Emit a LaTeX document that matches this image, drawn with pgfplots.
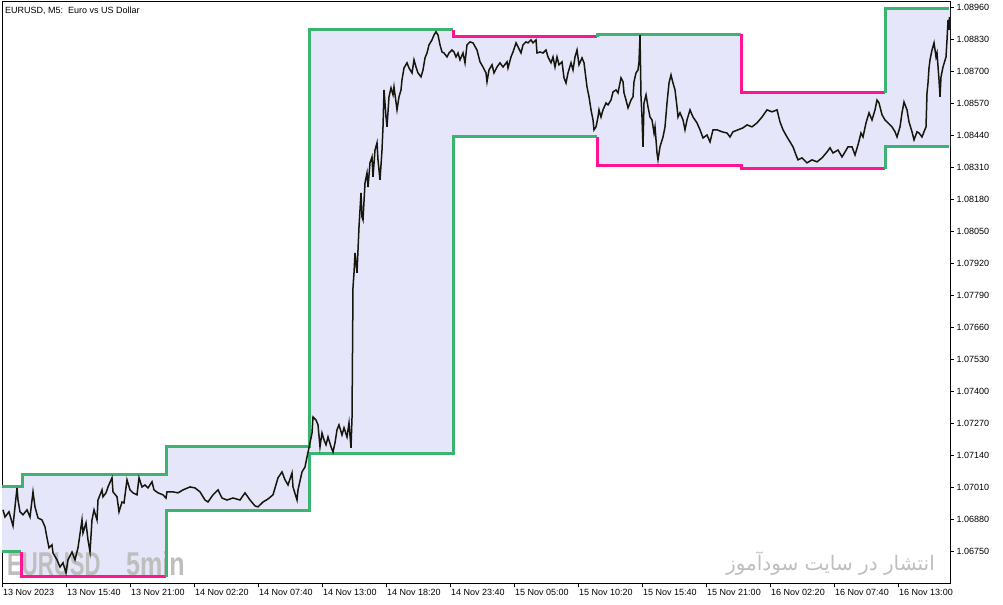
\documentclass[border=0pt]{standalone}
\usepackage{pgfplots}
\pgfplotsset{compat=1.18}
\usepackage{pgfplotstable}
\usepackage{fontspec}
\setmainfont{Liberation Sans}
\newfontfamily\arabicfont[Script=Arabic]{DejaVu Sans}
\TeXXeTstate=1
\definecolor{chgreen}{RGB}{60,179,113}
\definecolor{chpink}{RGB}{255,20,147}
\definecolor{chfill}{RGB}{230,230,250}
\definecolor{wmgray}{RGB}{190,190,190}
\definecolor{pricecol}{RGB}{22,22,12}

\pgfplotstableread{
x p
3 1.06918
5 1.06889
9 1.06910
13 1.06853
15 1.06930
17 1.07007
18 1.06958
20 1.06910
23 1.06898
27 1.06918
30 1.06889
33 1.06991
35 1.06930
38 1.06885
42 1.06877
45 1.06849
47 1.06804
49 1.06764
52 1.06776
53 1.06743
57 1.06715
60 1.06686
63 1.06703
66 1.06662
68 1.06715
72 1.06747
75 1.06715
78 1.06764
82 1.06877
83 1.06824
86 1.06865
88 1.06796
90 1.06747
92 1.06877
94 1.06918
97 1.06877
98 1.06958
102 1.06999
103 1.06971
106 1.06987
108 1.07011
112 1.07048
113 1.06991
117 1.06971
119 1.06910
122 1.06950
124 1.06946
127 1.07040
130 1.06999
133 1.06987
137 1.06979
139 1.07048
142 1.07011
145 1.07019
148 1.07007
152 1.07032
154 1.06999
158 1.06987
163 1.06979
166 1.06966
167 1.06991
173 1.06991
178 1.06987
183 1.06999
190 1.07011
195 1.07007
200 1.06991
205 1.06958
208 1.06950
213 1.06979
218 1.06999
222 1.06966
227 1.06958
233 1.06966
240 1.06958
245 1.06987
250 1.06958
255 1.06934
258 1.06930
263 1.06950
268 1.06962
273 1.06979
278 1.07048
282 1.07072
285 1.07040
288 1.07019
292 1.07068
293 1.07011
297 1.06958
298 1.06999
302 1.07072
305 1.07092
307 1.07133
309 1.07170
312 1.07230
313 1.07295
316 1.07283
318 1.07263
320 1.07174
322 1.07230
324 1.07202
326 1.07182
328 1.07214
331 1.07174
333 1.07153
335 1.07190
337 1.07243
339 1.07263
342 1.07222
344 1.07251
347 1.07214
349 1.07271
351 1.07170
352 1.07291
353 1.07823
354 1.07880
355 1.07961
357 1.07880
358 1.07973
359 1.08067
361 1.08205
362 1.08107
363 1.08095
365 1.08245
367 1.08286
368 1.08229
370 1.08327
372 1.08351
373 1.08270
375 1.08379
377 1.08408
378 1.08339
380 1.08258
382 1.08379
383 1.08473
384 1.08623
386 1.08513
387 1.08473
389 1.08595
391 1.08631
393 1.08603
394 1.08635
397 1.08542
399 1.08595
401 1.08623
402 1.08664
404 1.08712
407 1.08733
409 1.08712
412 1.08692
414 1.08745
416 1.08716
418 1.08692
421 1.08676
423 1.08704
425 1.08753
427 1.08773
429 1.08806
432 1.08826
434 1.08846
436 1.08859
438 1.08846
440 1.08806
442 1.08777
444 1.08773
447 1.08757
449 1.08773
452 1.08785
454 1.08777
456 1.08757
458 1.08773
460 1.08745
463 1.08773
465 1.08733
467 1.08806
470 1.08818
473 1.08814
477 1.08785
480 1.08737
483 1.08716
486 1.08692
487 1.08656
489 1.08704
492 1.08725
494 1.08692
497 1.08716
500 1.08733
503 1.08716
507 1.08737
508 1.08712
511 1.08757
513 1.08777
516 1.08814
518 1.08798
521 1.08773
523 1.08806
526 1.08818
528 1.08814
531 1.08826
533 1.08814
536 1.08826
537 1.08773
540 1.08777
543 1.08773
546 1.08785
548 1.08757
551 1.08733
553 1.08757
555 1.08716
557 1.08757
559 1.08725
562 1.08737
564 1.08672
566 1.08651
568 1.08692
571 1.08733
573 1.08704
575 1.08757
577 1.08785
579 1.08725
582 1.08753
584 1.08733
587 1.08635
589 1.08595
591 1.08542
593 1.08501
594 1.08461
596 1.08473
598 1.08513
599 1.08542
601 1.08513
603 1.08542
606 1.08570
608 1.08562
611 1.08582
613 1.08615
616 1.08623
618 1.08611
621 1.08672
623 1.08656
624 1.08611
626 1.08582
628 1.08550
631 1.08582
633 1.08595
634 1.08656
636 1.08692
638 1.08704
639 1.08737
640 1.08846
641 1.08595
642 1.08513
643 1.08392
644 1.08570
646 1.08603
648 1.08554
650 1.08513
652 1.08501
654 1.08448
655 1.08473
657 1.08367
658 1.08339
660 1.08392
663 1.08432
665 1.08473
667 1.08570
669 1.08651
671 1.08684
673 1.08651
675 1.08623
677 1.08554
678 1.08513
680 1.08530
683 1.08501
685 1.08461
687 1.08501
690 1.08542
693 1.08513
697 1.08489
700 1.08461
703 1.08428
707 1.08440
710 1.08412
713 1.08461
717 1.08461
722 1.08453
727 1.08448
730 1.08432
733 1.08453
738 1.08461
743 1.08469
747 1.08481
752 1.08473
757 1.08489
762 1.08513
767 1.08542
772 1.08534
777 1.08542
780 1.08493
783 1.08461
787 1.08432
790 1.08412
793 1.08392
796 1.08359
798 1.08339
802 1.08347
807 1.08327
812 1.08339
817 1.08331
822 1.08347
827 1.08371
830 1.08388
833 1.08367
838 1.08379
842 1.08351
845 1.08371
848 1.08392
852 1.08392
855 1.08359
858 1.08400
861 1.08448
863 1.08432
866 1.08489
869 1.08530
872 1.08501
875 1.08542
877 1.08582
879 1.08570
882 1.08522
885 1.08501
888 1.08489
892 1.08473
895 1.08453
897 1.08432
900 1.08473
902 1.08530
904 1.08574
907 1.08542
909 1.08493
912 1.08453
914 1.08420
917 1.08453
919 1.08448
922 1.08432
924 1.08453
926 1.08473
927 1.08611
928 1.08651
929 1.08712
930 1.08745
932 1.08785
934 1.08814
936 1.08757
937 1.08773
939 1.08664
940 1.08595
941 1.08676
943 1.08716
946 1.08757
947 1.08826
948 1.08907
949 1.08867
949.5 1.08919
}\price

\pgfplotstableread{
x p
2 1.07011
22 1.07011
22 1.07060
166 1.07060
166 1.07174
309 1.07174
309 1.08867
453 1.08867
453 1.08838
597 1.08838
597 1.08850
741 1.08850
741 1.08611
885 1.08611
885 1.08952
950 1.08952
950 1.08392
885 1.08392
885 1.08302
741 1.08302
741 1.08315
597 1.08315
597 1.08432
453 1.08432
453 1.07148
309 1.07148
309 1.06914
166 1.06914
166 1.06646
21 1.06646
21 1.06747
2 1.06747
}\band

\begin{document}
\begin{tikzpicture}
\path[use as bounding box] (0,0) rectangle (1003bp,605bp);
\begin{axis}[
  at={(2bp,22bp)}, anchor=south west,
  scale only axis, width=948bp, height=581bp,
  xmin=2, xmax=950, ymin=1.06621, ymax=1.08980,
  axis line style={black, line width=1bp},
  tick align=outside, major tick length=4bp,
  tick style={black, line width=0.8bp},
  xtick pos=left, ytick pos=right,
  xticklabel pos=left, yticklabel pos=right,
  xtick={2.7,66.7,130.7,194.7,258.7,322.7,386.7,450.7,514.7,578.7,642.7,706.7,770.7,834.7,898.7},
  xticklabels={13 Nov 2023,13 Nov 15:40,13 Nov 21:00,14 Nov 02:20,14 Nov 07:40,14 Nov 13:00,14 Nov 18:20,14 Nov 23:40,15 Nov 05:00,15 Nov 10:20,15 Nov 15:40,15 Nov 21:00,16 Nov 02:20,16 Nov 07:40,16 Nov 13:00},
  ytick={1.0675,1.0688,1.0701,1.0714,1.0727,1.0740,1.0753,1.0766,1.0779,1.0792,1.0805,1.0818,1.0831,1.0844,1.0857,1.0870,1.0883,1.0896},
  yticklabels={1.06750,1.06880,1.07010,1.07140,1.07270,1.07400,1.07530,1.07660,1.07790,1.07920,1.08050,1.08180,1.08310,1.08440,1.08570,1.08700,1.08830,1.08960},
  x tick label style={font=\fontsize{9bp}{10bp}\selectfont, anchor=north west, xshift=-3bp, yshift=1bp},
  y tick label style={font=\fontsize{9bp}{10bp}\selectfont, anchor=west, xshift=-1bp},
  scaled y ticks=false,
  clip=true,
]
\addplot[fill=chfill, draw=none] table[x=x,y=p] {\band} -- cycle;
% watermarks (behind lines and price)
\node[anchor=base west, inner sep=0pt, text=wmgray, xscale=0.67, font=\fontsize{33bp}{34bp}\selectfont\bfseries] at (axis cs:7,1.06650) {EURUSD};
\node[anchor=base west, inner sep=0pt, text=wmgray, xscale=0.76, font=\fontsize{33bp}{34bp}\selectfont\bfseries] at (axis cs:126,1.06650) {5min};
\node[anchor=base east, inner sep=0pt, text=wmgray, font=\fontsize{20bp}{22bp}\arabicfont] at (axis cs:935,1.06670) {\beginR انتشار در سایت سودآموز\endR};
% upper line
\addplot[chgreen, line width=3bp] coordinates {(2,1.07011) (22,1.07011) (22,1.07060) (166,1.07060) (166,1.07174) (309,1.07174) (309,1.08867) (453,1.08867)};
\addplot[chpink, line width=3bp] coordinates {(453,1.08867) (453,1.08838) (597,1.08838)};
\addplot[chgreen, line width=3bp] coordinates {(597,1.08838) (597,1.08850) (741,1.08850)};
\addplot[chpink, line width=3bp] coordinates {(741,1.08850) (741,1.08611) (885,1.08611)};
\addplot[chgreen, line width=3bp] coordinates {(885,1.08611) (885,1.08952) (949,1.08952)};
% lower line
\addplot[chgreen, line width=3bp] coordinates {(2,1.06747) (21,1.06747)};
\addplot[chpink, line width=3bp] coordinates {(21,1.06747) (21,1.06646) (166,1.06646)};
\addplot[chgreen, line width=3bp] coordinates {(166,1.06646) (166,1.06914) (309,1.06914) (309,1.07148) (453,1.07148) (453,1.08432) (597,1.08432)};
\addplot[chpink, line width=3bp] coordinates {(597,1.08432) (597,1.08315) (741,1.08315) (741,1.08302) (885,1.08302)};
\addplot[chgreen, line width=3bp] coordinates {(885,1.08302) (885,1.08392) (949,1.08392)};
% price
\addplot[pricecol, line width=1.5bp, line join=miter] table[x=x,y=p] {\price};
% title
\node[anchor=north west, inner sep=0pt, font=\fontsize{9bp}{10bp}\selectfont] at (axis description cs:0.003,0.992) {EURUSD, M5:\ \ Euro vs US Dollar};
\end{axis}
\end{tikzpicture}
\end{document}
